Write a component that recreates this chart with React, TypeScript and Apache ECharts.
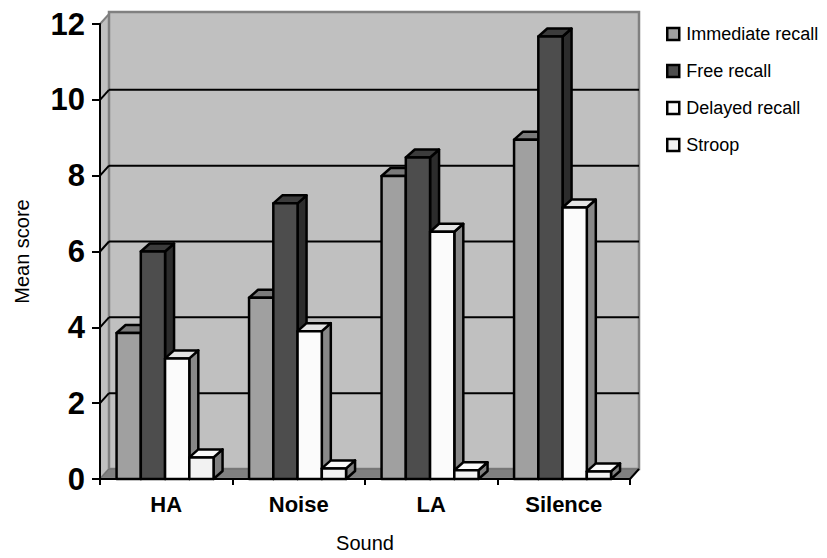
import React, { useEffect, useRef } from "react";
import * as echarts from "echarts";

const categories = ["HA", "Noise", "LA", "Silence"];
const seriesNames = ["Immediate recall", "Free recall", "Delayed recall", "Stroop"];
const immediateRecall = [3.85, 4.78, 7.99, 8.95];
const freeRecall = [6.0, 7.27, 8.48, 11.67];
const delayedRecall = [3.18, 3.9, 6.52, 7.16];
const stroop = [0.57, 0.28, 0.23, 0.2];
const yTicks = [0, 2, 4, 6, 8, 10, 12];

const seriesValues = [immediateRecall, freeRecall, delayedRecall, stroop];
const faceColors = [
  { front: "#a0a0a0", top: "#7a7a7a", side: "#5e5e5e" },
  { front: "#4d4d4d", top: "#3c3c3c", side: "#2c2c2c" },
  { front: "#fbfbfb", top: "#e4e4e4", side: "#888888" },
  { front: "#f2f2f2", top: "#fafafa", side: "#808080" },
];

const FONT = "'Liberation Sans', Arial, sans-serif";
const WALL_DX = 9;
const WALL_DY = -10;
const BAR_DX = 9;
const BAR_DY = -8;

export default function App() {
  const ref = useRef<HTMLDivElement>(null);
  useEffect(() => {
    if (!ref.current) return;
    document.body.style.margin = "0";
    const chart = echarts.init(ref.current, undefined, { renderer: "svg" });

    const wallsRender = (params: any, api: any) => {
      const cs = params.coordSys;
      const x0 = cs.x;
      const x1 = cs.x + cs.width;
      const yTop = cs.y;
      const yBot = cs.y + cs.height;
      const children: any[] = [];
      children.push({
        type: "polygon",
        shape: { points: [[x0, yTop], [x0 + WALL_DX, yTop + WALL_DY], [x0 + WALL_DX, yBot + WALL_DY], [x0, yBot]] },
        style: { fill: "#c0c0c0", stroke: "#808080", lineWidth: 2 },
      });
      children.push({
        type: "rect",
        shape: { x: x0 + WALL_DX, y: yTop + WALL_DY - 2, width: cs.width, height: cs.height + 2 },
        style: { fill: "#c0c0c0", stroke: "#808080", lineWidth: 2.5 },
      });
      children.push({
        type: "polygon",
        shape: { points: [[x0, yBot], [x1, yBot], [x1 + WALL_DX, yBot + WALL_DY], [x0 + WALL_DX, yBot + WALL_DY]] },
        style: { fill: "#808080", stroke: "#6e6e6e", lineWidth: 1 },
      });
      yTicks.forEach((t) => {
        if (t === 0 || t === yTicks[yTicks.length - 1]) return;
        const y = api.coord([0, t])[1];
        children.push({
          type: "line",
          shape: { x1: x0 + WALL_DX, y1: y + WALL_DY, x2: x1 + WALL_DX, y2: y + WALL_DY },
          style: { stroke: "#000", lineWidth: 2 },
        });
        children.push({
          type: "line",
          shape: { x1: x0, y1: y, x2: x0 + WALL_DX, y2: y + WALL_DY },
          style: { stroke: "#000", lineWidth: 2 },
        });
      });
      children.push({
        type: "line",
        shape: { x1: x1, y1: yBot, x2: x1 + WALL_DX, y2: yBot + WALL_DY },
        style: { stroke: "#000", lineWidth: 2 },
      });
      return { type: "group", children };
    };

    const makeBarRender = (si: number) => (params: any, api: any) => {
      const cat = api.value(0);
      const v = api.value(1);
      const band = api.size([1, 0])[0];
      const base = api.coord([cat, 0]);
      const topPt = api.coord([cat, v]);
      const bandStart = base[0] - band / 2;
      const w = band * 0.183;
      const x = bandStart + band * 0.125 + si * w;
      const top = topPt[1];
      const bottom = base[1];
      const c = faceColors[si];
      const st = { stroke: "#000", lineWidth: 2.5, lineJoin: "round" };
      return {
        type: "group",
        children: [
          {
            type: "polygon",
            shape: { points: [[x + w, top], [x + w + BAR_DX, top + BAR_DY], [x + w + BAR_DX, bottom + BAR_DY], [x + w, bottom]] },
            style: { fill: c.side, ...st },
          },
          {
            type: "polygon",
            shape: { points: [[x, top], [x + w, top], [x + w + BAR_DX, top + BAR_DY], [x + BAR_DX, top + BAR_DY]] },
            style: { fill: c.top, ...st },
          },
          {
            type: "rect",
            shape: { x, y: top, width: w, height: bottom - top },
            style: { fill: c.front, ...st },
          },
        ],
      };
    };

    const barSeries = seriesNames.map((name, si) => ({
      name,
      type: "custom",
      renderItem: makeBarRender(si),
      itemStyle: { color: faceColors[si].front, borderColor: "#000", borderWidth: 2 },
      encode: { x: 0, y: 1 },
      data: seriesValues[si].map((v, i) => [i, v]),
      z: 3,
    }));

    chart.setOption({
      animation: false,
      backgroundColor: "#ffffff",
      textStyle: { fontFamily: FONT },
      grid: { left: 100, right: 197, top: 24, bottom: 70 },
      legend: {
        orient: "vertical",
        left: 661,
        top: 20,
        itemWidth: 12,
        itemHeight: 12,
        itemGap: 19,
        icon: "rect",
        data: seriesNames,
        itemStyle: { borderColor: "#000", borderWidth: 2.5 },
        textStyle: { fontFamily: FONT, fontSize: 18, color: "#000", padding: [0, 0, 0, 2] },
      },
      xAxis: {
        type: "category",
        data: categories,
        boundaryGap: true,
        name: "Sound",
        nameLocation: "middle",
        nameGap: 54,
        nameTextStyle: { fontFamily: FONT, fontSize: 20, color: "#000" },
        axisLine: { lineStyle: { color: "#000", width: 2 } },
        axisTick: { show: true, length: 6, interval: 0, lineStyle: { color: "#000", width: 2 } },
        axisLabel: { fontFamily: FONT, fontSize: 22, fontWeight: "bold", color: "#000", margin: 14 },
        splitLine: { show: false },
        z: 5,
      },
      yAxis: {
        type: "value",
        min: 0,
        max: 12,
        interval: 2,
        name: "Mean score",
        nameLocation: "middle",
        nameGap: 68,
        nameTextStyle: { fontFamily: FONT, fontSize: 20, color: "#000" },
        axisLine: { show: true, lineStyle: { color: "#000", width: 2 } },
        axisTick: { show: true, length: 8, lineStyle: { color: "#000", width: 2 } },
        axisLabel: { fontFamily: FONT, fontSize: 31, fontWeight: "bold", color: "#000", margin: 15 },
        splitLine: { show: false },
        z: 5,
      },
      series: [
        {
          type: "custom",
          name: "walls",
          silent: true,
          renderItem: wallsRender,
          data: [[0, 0]],
          encode: { x: 0, y: 1 },
          z: 1,
        },
        ...barSeries,
      ],
    });
    return () => chart.dispose();
  }, []);
  return <div ref={ref} style={{ width: 827, height: 558 }} />;
}
